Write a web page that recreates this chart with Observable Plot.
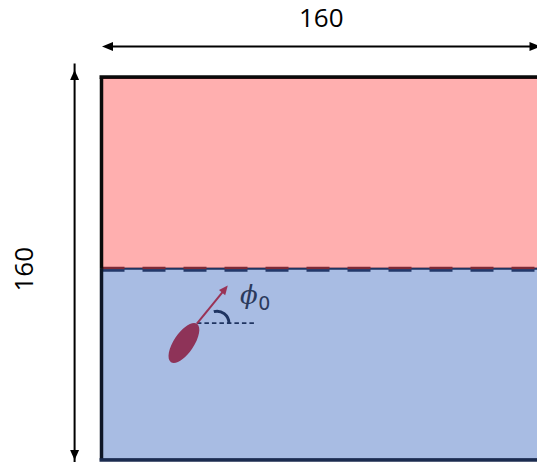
<!DOCTYPE html>
<html><head><meta charset="utf-8">
<script src="https://cdn.jsdelivr.net/npm/d3@7"></script>
<script src="https://cdn.jsdelivr.net/npm/@observablehq/plot@0.6"></script>
<style>html,body{margin:0;padding:0;background:#fff;} svg{display:block}</style>
</head><body><div id="chart"></div>
<script>
// ---- diagram data (simulation units) ----
const boxExtent = [0, 160];
const interfaceLevel = [80];
const regions = ["upper", "lower"];
const dimensionLabels = ["160", "160"];
const widthArrowY = [173.4];
const heightArrowX = [-10];
const heightArrowSpan = [0, 163.6];
const labelPos = [[80, 185], [-28.3, 80]];
const particleX = [29.9];
const particleY = [49.1];
const particleTilt = [34];   // degrees from vertical
const phi0 = [51];           // heading above horizontal, degrees
const angleLabel = ["ϕ", "0"];

// ---- scales ----
const xOpt = {domain: boxExtent, range: [101.5, 540]};
const yOpt = {domain: boxExtent, range: [459.5, 78]};
const sx = Plot.scale({x: xOpt});
const sy = Plot.scale({y: yOpt});

// ---- symbols ----
const rad = Math.PI / 180;
function rot(p, deg) { const c = Math.cos(deg*rad), s = Math.sin(deg*rad); return [p[0]*c - p[1]*s, p[0]*s + p[1]*c]; }
function headSym(len, half, deg) {
  return {draw(ctx) {
    const a = rot([0,0],deg), b = rot([-half,len],deg), c = rot([half,len],deg);
    ctx.moveTo(a[0],a[1]); ctx.lineTo(b[0],b[1]); ctx.lineTo(c[0],c[1]); ctx.closePath();
  }};
}
function ellipseSym(rx, ry, deg) {
  return {draw(ctx) {
    const k = 0.5523;
    const P = (x,y) => rot([x,y],deg);
    const m = P(0,-ry); ctx.moveTo(m[0], m[1]);
    const segs = [
      [[k*rx,-ry],[rx,-k*ry],[rx,0]],
      [[rx,k*ry],[k*rx,ry],[0,ry]],
      [[-k*rx,ry],[-rx,k*ry],[-rx,0]],
      [[-rx,-k*ry],[-k*rx,-ry],[0,-ry]]
    ];
    for (const s of segs) { const a=P(...s[0]), b=P(...s[1]), c=P(...s[2]); ctx.bezierCurveTo(a[0],a[1],b[0],b[1],c[0],c[1]); }
    ctx.closePath();
  }};
}
const arcR = 12;
const arcSym = {draw(ctx) {
  const a0 = -105 * rad;
  ctx.moveTo(arcR*Math.cos(a0), arcR*Math.sin(a0));
  ctx.arc(0, 0, arcR, a0, 0);
}};

// ---- derived geometry via scales ----
const semiMajor = 23.2, semiMinor = 10;
const cPx = [sx.apply(particleX[0]), sy.apply(particleY[0])];
const tipPx = [cPx[0] + semiMajor*Math.sin(particleTilt[0]*rad), cPx[1] - semiMajor*Math.cos(particleTilt[0]*rad)];
const tip = {x: sx.invert(tipPx[0]), y: sy.invert(tipPx[1])};
const arrowLen = 49;
const endPx = [tipPx[0] + arrowLen*Math.cos(phi0[0]*rad), tipPx[1] - arrowLen*Math.sin(phi0[0]*rad)];
const shaftPx = [tipPx[0] + (arrowLen-6)*Math.cos(phi0[0]*rad), tipPx[1] - (arrowLen-6)*Math.sin(phi0[0]*rad)];
const arrowEnd = {x: sx.invert(endPx[0]), y: sy.invert(endPx[1])};
const shaftEnd = {x: sx.invert(shaftPx[0]), y: sy.invert(shaftPx[1])};
const refEnd = {x: sx.invert(tipPx[0] + 57), y: tip.y};

const rects = regions.map((r, i) => ({
  region: r, x1: boxExtent[0], x2: boxExtent[1],
  y1: i === 0 ? interfaceLevel[0] : boxExtent[0],
  y2: i === 0 ? boxExtent[1] : interfaceLevel[0]
}));

const navy = "#1f3461";
const plum = "#8e3358";

const chart = Plot.plot({
  width: 537, height: 462, margin: 0,
  x: {...xOpt, axis: null},
  y: {...yOpt, axis: null},
  style: {background: "white"},
  marks: [
    Plot.rect([rects[0]], {x1:"x1", x2:"x2", y1:"y1", y2:"y2", fill:"#FFAFAF", stroke:"#7a2328", strokeWidth:2}),
    Plot.rect([rects[1]], {x1:"x1", x2:"x2", y1:"y1", y2:"y2", fill:"#A8BCE3", stroke:navy, strokeWidth:2}),
    // interface dashes
    Plot.ruleY([{y: interfaceLevel[0], x1: boxExtent[0], x2: boxExtent[1]}], {y:"y", x1:"x1", x2:"x2", dy:-1.3, stroke:"#7d2a36", strokeWidth:2.6, strokeDasharray:"23,18"}),
    Plot.ruleY([{y: interfaceLevel[0], x1: boxExtent[0], x2: boxExtent[1]}], {y:"y", x1:"x1", x2:"x2", dy:1.3, stroke:"#23386a", strokeWidth:2.6, strokeDasharray:"23,18"}),
    // frame
    Plot.ruleX([{x: boxExtent[0], y1: interfaceLevel[0], y2: boxExtent[1]}], {x:"x", y1:"y1", y2:"y2", dx:-0.5, stroke:"#0a0a0a", strokeWidth:3.5}),
    Plot.ruleX([{x: boxExtent[0], y1: boxExtent[0], y2: interfaceLevel[0]}], {x:"x", y1:"y1", y2:"y2", dx:-0.5, stroke:"#0e1626", strokeWidth:3.5}),
    Plot.ruleY([{y: boxExtent[1], x1: boxExtent[0], x2: boxExtent[1]}], {y:"y", x1:"x1", x2:"x2", dy:-1.5, dx:-2, stroke:"#0a0a0a", strokeWidth:3.5}),
    Plot.ruleY([{y: boxExtent[0], x1: boxExtent[0], x2: boxExtent[1]}], {y:"y", x1:"x1", x2:"x2", dy:0, dx:-2, stroke:"#1b2b4f", strokeWidth:3.5}),
    // width dimension arrow
    Plot.ruleY([{y: widthArrowY[0], x1: boxExtent[0], x2: boxExtent[1]}], {y:"y", x1:"x1", x2:"x2", insetLeft:6, insetRight:6, stroke:"#000", strokeWidth:2}),
    Plot.dot([{x: boxExtent[0], y: widthArrowY[0]}], {x:"x", y:"y", symbol: headSym(11, 4.5, -90), fill:"#000"}),
    Plot.dot([{x: boxExtent[1], y: widthArrowY[0]}], {x:"x", y:"y", symbol: headSym(11, 4.5, 90), fill:"#000"}),
    // height dimension arrow
    Plot.ruleX([{x: heightArrowX[0], y1: heightArrowSpan[0], y2: heightArrowSpan[1]}], {x:"x", y1:"y1", y2:"y2", insetTop:6, insetBottom:6, stroke:"#000", strokeWidth:2}),
    Plot.dot([{x: heightArrowX[0], y: heightArrowSpan[1]}], {x:"x", y:"y", symbol: headSym(10, 4.5, 0), fill:"#000"}),
    Plot.dot([{x: heightArrowX[0], y: heightArrowSpan[0]}], {x:"x", y:"y", symbol: headSym(10, 4.5, 180), fill:"#000"}),
    // dimension labels
    Plot.text([0], {x: () => labelPos[0][0], y: () => labelPos[0][1], text: () => dimensionLabels[0], fontFamily:"Open Sans", fontSize:26, fill:"#000"}),
    Plot.text([0], {x: () => labelPos[1][0], y: () => labelPos[1][1], text: () => dimensionLabels[1], rotate:-90, fontFamily:"Open Sans", fontSize:26, fill:"#000"}),
    // particle
    Plot.dot([{x: particleX[0], y: particleY[0]}], {x:"x", y:"y", symbol: ellipseSym(semiMinor, semiMajor, particleTilt[0]), fill: plum}),
    Plot.link([{x1: tip.x, y1: tip.y, x2: refEnd.x, y2: refEnd.y}], {x1:"x1", y1:"y1", x2:"x2", y2:"y2", dy:-0.6, stroke:navy, strokeWidth:1.6, strokeDasharray:"4.5,3"}),
    Plot.link([{x1: tip.x, y1: tip.y, x2: shaftEnd.x, y2: shaftEnd.y}], {x1:"x1", y1:"y1", x2:"x2", y2:"y2", stroke:"#9a3356", strokeWidth:2}),
    Plot.dot([arrowEnd], {x:"x", y:"y", symbol: headSym(9, 4, 90 - phi0[0]), fill:"#9a3356"}),
    Plot.dot([tip], {x:"x", y:"y", dx:20, dy:-0.5, symbol: arcSym, fill:"none", stroke:navy, strokeWidth:3}),
    Plot.text([tip], {x:"x", y:"y", dx:52, dy:-28, text: () => angleLabel[0], fontFamily:"DejaVu Serif", fontStyle:"italic", fontSize:26, fill:"#2b3a5c"}),
    Plot.text([tip], {x:"x", y:"y", dx:67.5, dy:-20, text: () => angleLabel[1], fontFamily:"DejaVu Sans", fontSize:19, fill:"#2b3a5c"})
  ]
});
document.getElementById("chart").appendChild(chart);
</script>
</body></html>
